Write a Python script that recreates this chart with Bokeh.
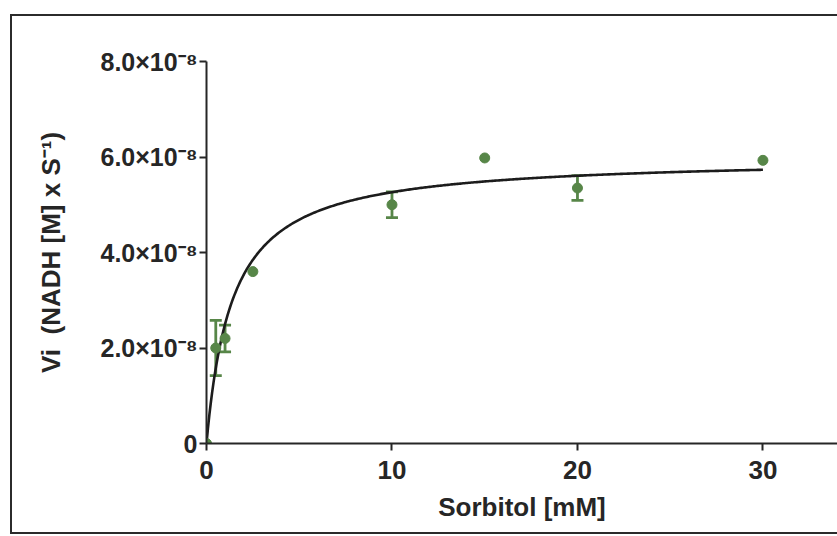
import numpy as np
from bokeh.plotting import figure
from bokeh.models import (Range1d, FixedTicker, CustomJSTickFormatter, Whisker,
                          ColumnDataSource, TeeHead)
from bokeh.embed import file_html
from bokeh.resources import INLINE

# ---- data ----
substrate_mM = [0, 0.5, 1.0, 2.5, 10, 15, 20, 30]
velocity = [0, 2.0e-8, 2.2e-8, 3.6e-8, 5.0e-8, 5.98e-8, 5.35e-8, 5.93e-8]
velocity_err = [0, 0.58e-8, 0.28e-8, 0, 0.27e-8, 0, 0.26e-8, 0]
# Michaelis-Menten fit parameters (fitted curve drawn in the figure)
fit_vmax = 6.0e-8
fit_km = 1.4
fit_x_max = 30
x_ticks = [0, 10, 20, 30]
y_ticks = [0, 2e-8, 4e-8, 6e-8, 8e-8]

GREEN = "#578648"
INK = "#262626"
FONT = "Liberation Sans"

p = figure(width=837, height=536, x_range=Range1d(0, 34.02), y_range=Range1d(0, 8e-8),
           output_backend="svg", toolbar_location=None,
           min_border_left=206, min_border_right=0, min_border_top=61, min_border_bottom=93)
p.grid.visible = False
p.outline_line_color = None
p.background_fill_color = None
p.border_fill_color = None

# scanned-figure frame (drawn as the page element's background)
LC = "#2b2b2b"
p.styles = {
    "background": (
        f"linear-gradient({LC},{LC}) 10px 14px / 2px 520px no-repeat, "
        f"linear-gradient({LC},{LC}) 10px 14px / 900px 2px no-repeat, "
        f"linear-gradient({LC},{LC}) 10px 532px / 900px 2px no-repeat, white"
    )
}

# fitted curve
fx = np.linspace(0, fit_x_max, 400)
fy = fit_vmax * fx / (fit_km + fx)
p.line(fx, fy, line_color="#1c1c1c", line_width=2.6)

# error bars
ex = [x for x, e in zip(substrate_mM, velocity_err) if e > 0]
ey = [y for y, e in zip(velocity, velocity_err) if e > 0]
ee = [e for e in velocity_err if e > 0]
esrc = ColumnDataSource(dict(x=ex, upper=[y + e for y, e in zip(ey, ee)],
                             lower=[y - e for y, e in zip(ey, ee)]))
wh = Whisker(base="x", upper="upper", lower="lower", source=esrc,
             line_color=GREEN, line_width=2.8,
             upper_head=TeeHead(size=12, line_color=GREEN, line_width=2.8),
             lower_head=TeeHead(size=12, line_color=GREEN, line_width=2.8))
p.add_layout(wh)

# points
p.scatter(substrate_mM, velocity, size=10, fill_color=GREEN, line_color=GREEN)

# axes
for ax in (p.xaxis[0], p.yaxis[0]):
    ax.axis_line_color = INK
    ax.axis_line_width = 2
    ax.major_tick_line_color = INK
    ax.major_tick_line_width = 2
    ax.major_tick_in = 0
    ax.major_tick_out = 7
    ax.minor_tick_line_color = None
    ax.major_label_text_font = FONT
    ax.major_label_text_font_style = "bold"
    ax.major_label_text_color = INK
    ax.axis_label_text_font = FONT
    ax.axis_label_text_font_style = "bold"
    ax.axis_label_text_color = INK
    ax.axis_label_text_font_size = "26px"

p.xaxis.ticker = FixedTicker(ticks=x_ticks)
p.yaxis.ticker = FixedTicker(ticks=y_ticks)
p.xaxis.major_label_text_font_size = "26px"
p.yaxis.major_label_text_font_size = "25px"
p.xaxis.major_label_standoff = 10
p.yaxis.major_label_standoff = 2
p.yaxis.formatter = CustomJSTickFormatter(code="""
    if (Math.abs(tick) < 1e-12) return "0";
    return (tick / 1e-8).toFixed(1) + "\u00d710\u207b\u2078";
""")
p.xaxis.axis_label = "Sorbitol [mM]"
p.yaxis.axis_label = "Vi\u00a0\u00a0(NADH [M] x S\u207b\u00b9)"
p.xaxis.axis_label_standoff = 10
p.yaxis.axis_label_standoff = 32

open("out.html", "w").write(file_html(p, INLINE))
